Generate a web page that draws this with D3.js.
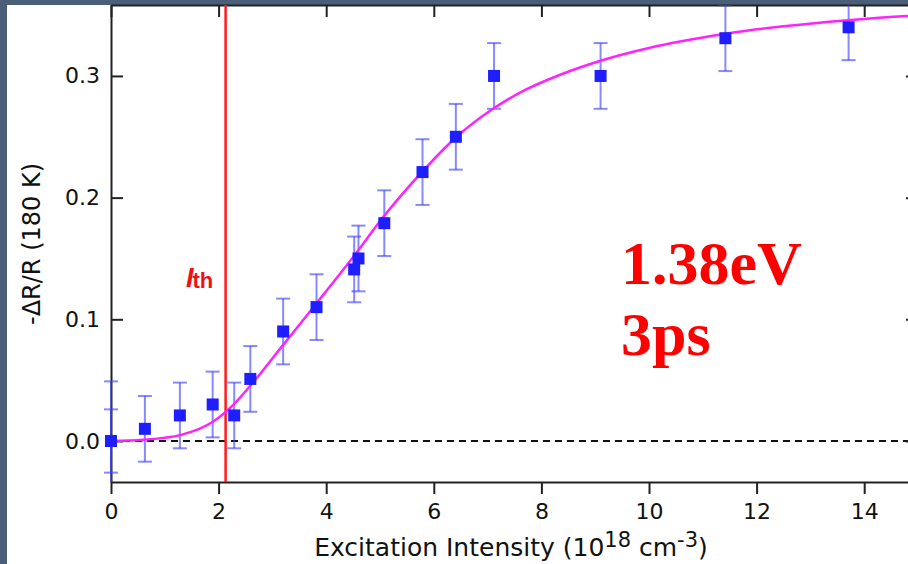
<!DOCTYPE html>
<html>
<head>
<meta charset="utf-8">
<script src="https://cdn.jsdelivr.net/npm/d3@7/dist/d3.min.js"></script>
<style>
  html, body { margin: 0; padding: 0; background: #4b5e78; }
  svg { display: block; }
</style>
</head>
<body>
<svg id="chart" width="908" height="564"></svg>
<script>
// Measured points: excitation intensity (1e18 cm^-3), -dR/R at 180 K, error half-width
const intensity = [0, 0, 0.63, 1.28, 1.89, 2.29, 2.59, 3.2, 3.82, 4.52, 4.60, 5.08, 5.79, 6.41, 7.12, 9.1, 11.42, 13.71];
const signal    = [0, 0, 0.010, 0.021, 0.030, 0.021, 0.051, 0.090, 0.110, 0.141, 0.150, 0.179, 0.221, 0.250, 0.300, 0.300, 0.331, 0.340];
const errorBar  = [0.049, 0.026, 0.027, 0.027, 0.027, 0.027, 0.027, 0.027, 0.027, 0.027, 0.027, 0.027, 0.027, 0.027, 0.027, 0.027, 0.027, 0.027];

// Fitted saturation curve
const fitIntensity = [0, 0.6, 1.3, 1.9, 2.3, 2.6, 3.2, 3.8, 4.55, 5.06, 5.8, 6.4, 7.1, 7.7, 8.35, 9.1, 10.0, 10.6, 11.4, 12.5, 13.7, 14.8, 15];
const fitSignal    = [0, 0.001, 0.005, 0.016, 0.031, 0.046, 0.079, 0.112, 0.154, 0.184, 0.222, 0.249, 0.273, 0.2885, 0.301, 0.3125, 0.323, 0.3285, 0.3345, 0.3408, 0.3458, 0.3493, 0.3498];

// Threshold intensity
const thresholdIntensity = 2.13;

const xTicks = [0, 2, 4, 6, 8, 10, 12, 14];
const yTicks = [0.0, 0.1, 0.2, 0.3];

const svg = d3.select("#chart");
const W = 908, H = 564;
const plot = { left: 111, right: 918, top: 5, bottom: 482 };

svg.append("rect").attr("x", 0).attr("y", 0).attr("width", W).attr("height", H).attr("fill", "#4b5e78");
svg.append("rect").attr("x", 7).attr("y", 5).attr("width", W - 7).attr("height", H - 5).attr("fill", "#ffffff");

const x = d3.scaleLinear().domain([0, 15]).range([plot.left, plot.right]);
const y = d3.scaleLinear().domain([-0.0337, 0.3583]).range([plot.bottom, plot.top]);

svg.append("defs").append("clipPath").attr("id", "plotclip")
  .append("rect").attr("x", 0).attr("y", plot.top).attr("width", W).attr("height", plot.bottom - plot.top);

// zero reference line
svg.append("line")
  .attr("x1", x(0)).attr("x2", x(15)).attr("y1", y(0)).attr("y2", y(0))
  .attr("stroke", "#111").attr("stroke-width", 2).attr("stroke-dasharray", "7,5");

// axes
const tickFont = "'DejaVu Sans', sans-serif";
function styleAxis(g) {
  g.select(".domain").attr("stroke", "#222").attr("stroke-width", 2);
  g.selectAll(".tick line").attr("stroke", "#222").attr("stroke-width", 2);
  g.selectAll(".tick text").attr("fill", "#111").style("font-family", tickFont).style("font-size", "22px");
}

svg.append("g").attr("transform", `translate(0,${plot.bottom})`)
  .call(d3.axisBottom(x).tickValues(xTicks).tickSize(12).tickSizeOuter(0).tickPadding(9).tickFormat(d3.format("d")))
  .call(styleAxis);
svg.append("g").attr("transform", `translate(0,${plot.top})`)
  .call(d3.axisTop(x).tickValues(xTicks).tickSize(-12).tickSizeOuter(0).tickFormat(""))
  .call(styleAxis);
svg.append("g").attr("transform", `translate(${plot.left},0)`)
  .call(d3.axisLeft(y).tickValues(yTicks).tickSize(-12).tickSizeOuter(0).tickPadding(11).tickFormat(d3.format(".1f")))
  .call(styleAxis);
svg.append("g").attr("transform", `translate(${plot.right},0)`)
  .call(d3.axisRight(y).tickValues(yTicks).tickSize(-12).tickSizeOuter(0).tickFormat(""))
  .call(styleAxis);

// threshold marker
svg.append("line")
  .attr("x1", x(thresholdIntensity)).attr("x2", x(thresholdIntensity))
  .attr("y1", plot.top).attr("y2", plot.bottom)
  .attr("stroke", "#ff1a1a").attr("stroke-width", 2.5);

const thLabel = svg.append("text").attr("x", 186).attr("y", 287)
  .attr("fill", "#ee1111").style("font-family", "'Liberation Sans', Arial, sans-serif")
  .style("font-weight", "bold");
thLabel.append("tspan").text("I").style("font-style", "italic").style("font-size", "27px");
thLabel.append("tspan").text("th").style("font-size", "22px").attr("dx", -1).attr("dy", 1);

// error bars
const pts = intensity.map((v, i) => ({ x: v, y: signal[i], e: errorBar[i] }));
const eg = svg.append("g").attr("clip-path", "url(#plotclip)")
  .attr("stroke", "#3838ff").attr("stroke-opacity", 0.6).attr("stroke-width", 2);
const capHalf = 7;
pts.forEach(p => {
  const cx = x(p.x);
  eg.append("line").attr("x1", cx).attr("x2", cx).attr("y1", y(p.y - p.e)).attr("y2", y(p.y + p.e));
  eg.append("line").attr("x1", cx - capHalf).attr("x2", cx + capHalf).attr("y1", y(p.y + p.e)).attr("y2", y(p.y + p.e));
  eg.append("line").attr("x1", cx - capHalf).attr("x2", cx + capHalf).attr("y1", y(p.y - p.e)).attr("y2", y(p.y - p.e));
});

// fit curve
const line = d3.line().x((d, i) => x(fitIntensity[i])).y(d => y(d)).curve(d3.curveMonotoneX);
svg.append("path").datum(fitSignal)
  .attr("d", line).attr("fill", "none")
  .attr("stroke", "#ff22ff").attr("stroke-width", 2.5)
  .attr("clip-path", "url(#plotclip)");

// markers
const ms = 12;
svg.append("g").selectAll("rect").data(pts).join("rect")
  .attr("x", d => x(d.x) - ms / 2).attr("y", d => y(d.y) - ms / 2)
  .attr("width", ms).attr("height", ms)
  .attr("fill", "#1e1eff");

// annotation
const ann = svg.append("text").attr("fill", "#ff0000")
  .style("font-family", "'Liberation Serif', 'Times New Roman', serif")
  .style("font-weight", "bold").style("font-size", "62px");
ann.append("tspan").attr("x", 621).attr("y", 284).text("1.38eV");
ann.append("tspan").attr("x", 621).attr("y", 355).text("3ps");

// axis titles
const titleFont = "'DejaVu Sans', sans-serif";
const xt = svg.append("text").attr("x", 511).attr("y", 556).attr("text-anchor", "middle")
  .attr("fill", "#111").style("font-family", titleFont).style("font-size", "25px");
xt.append("tspan").text("Excitation Intensity (10");
xt.append("tspan").text("18").attr("dy", -9).style("font-size", "21px");
xt.append("tspan").text(" cm").attr("dy", 9);
xt.append("tspan").text("-3").attr("dy", -9).style("font-size", "21px");
xt.append("tspan").text(")").attr("dy", 9);

svg.append("text").attr("transform", "translate(40,244) rotate(-90)")
  .attr("text-anchor", "middle").attr("fill", "#111")
  .style("font-family", titleFont).style("font-size", "24px")
  .text("-\u0394R/R (180 K)");
</script>
</body>
</html>
